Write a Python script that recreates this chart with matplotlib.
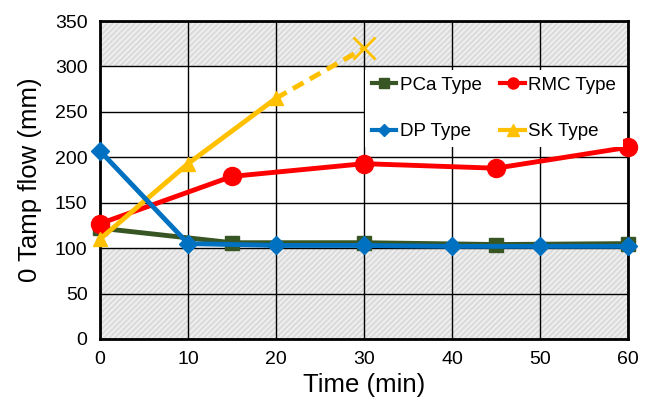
import matplotlib
matplotlib.use("Agg")
import matplotlib.pyplot as plt
from matplotlib.lines import Line2D

plt.rcParams["font.family"] = ["Liberation Sans", "DejaVu Sans"]

# data
pca_t = [0, 15, 30, 45, 60]
pca_flow = [122, 106, 106, 104, 105]
rmc_t = [0, 15, 30, 45, 60]
rmc_flow = [127, 179, 193, 188, 211]
dp_t = [0, 10, 20, 30, 40, 50, 60]
dp_flow = [207, 105, 103, 103, 102, 102, 102]
sk_t = [0, 10, 20]
sk_flow = [110, 193, 265]
sk_ext_t = [20, 30]
sk_ext_flow = [265, 320]

fig = plt.figure(figsize=(6.47, 4.04), dpi=100)
ax = fig.add_axes([0.1546, 0.1609, 0.816, 0.787])

# hatched out-of-range bands
for lo, hi in [(0, 100), (300, 350)]:
    ax.axhspan(lo, hi, facecolor="#dcdcdc", edgecolor="#f4f4f4", hatch="//////",
               lw=0, zorder=0)

ax.set_xlim(0, 60)
ax.set_ylim(0, 350)
ax.set_xticks(range(0, 61, 10))
ax.set_yticks(range(0, 351, 50))
ax.grid(True, color="black", lw=1.0, zorder=1)
ax.set_axisbelow(False)
ax.tick_params(length=0, labelsize=14, pad=9)
for s in ax.spines.values():
    s.set_linewidth(2)
    s.set_zorder(2)

lw = 3.5
ax.plot(pca_t, pca_flow, color="#375623", marker="s", ms=10, lw=lw,
        clip_on=False, zorder=3)
ax.plot(rmc_t, rmc_flow, color="#ff0000", marker="o", ms=13, lw=lw,
        clip_on=False, zorder=3)
ax.plot(dp_t, dp_flow, color="#0070c0", marker="D", ms=9, lw=lw,
        clip_on=False, zorder=4)
ax.plot(sk_t, sk_flow, color="#ffc000", marker="^", ms=10, lw=lw,
        clip_on=False, zorder=3)
ax.plot(sk_ext_t, sk_ext_flow, color="#ffc000", lw=lw, ls=(0, (2.5, 1.5)),
        zorder=3)
ax.plot(sk_ext_t[-1:], sk_ext_flow[-1:], color="#ffc000", marker="x", ms=16,
        mew=2, ls="none", clip_on=False, zorder=3)

ax.set_xlabel("Time (min)", fontsize=18.5, labelpad=3)
ax.set_ylabel("0 Tamp flow (mm)", fontsize=18.5, labelpad=9)

# column-wise fill: PCa/RMC on row 1, DP/SK on row 2
handles = [
    Line2D([], [], color="#375623", marker="s", ms=7, lw=3),
    Line2D([], [], color="#0070c0", marker="D", ms=6, lw=3),
    Line2D([], [], color="#ff0000", marker="o", ms=8, lw=3),
    Line2D([], [], color="#ffc000", marker="^", ms=8, lw=3),
]
labels = ["PCa Type", "DP Type", "RMC Type", "SK Type"]
leg = ax.legend(handles, labels, ncol=2, loc="upper left",
                bbox_to_anchor=(0.502, 0.845), fontsize=13.5, frameon=True,
                fancybox=False, edgecolor="none", facecolor="white",
                framealpha=1, handlelength=1.3, handletextpad=0.2,
                columnspacing=1.0, labelspacing=1.55, borderpad=0.35,
                borderaxespad=0)
leg.set_zorder(5)

fig.savefig("out.png", dpi=100)
